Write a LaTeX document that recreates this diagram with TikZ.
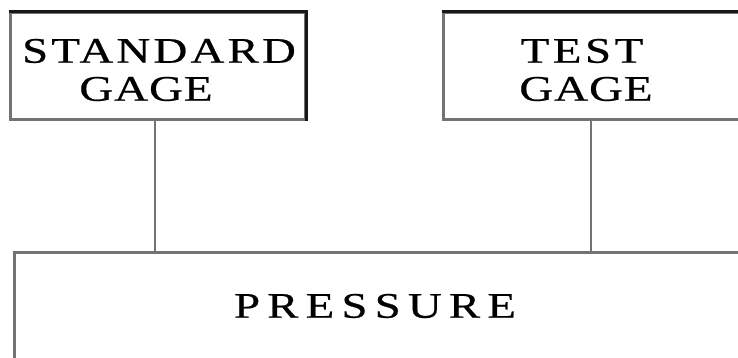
\documentclass[tikz,border=0pt]{standalone}
\usepackage{fontspec}
\setmainfont{Liberation Serif}[FakeStretch=1.3, FakeBold=0.6]
\newcommand{\lsp}[2]{{\addfontfeature{LetterSpace=#1}#2}}
\begin{document}
\begin{tikzpicture}[x=1pt,y=-1pt,
  gbox/.style={draw=black!55, line width=3pt, rectangle, inner sep=0pt},
  dark/.style={draw=black!90, line width=3pt},
  lbl/.style={align=center, font=\fontsize{36}{38}\selectfont, inner sep=0pt},
  wire/.style={draw=black!55, line width=2pt}]
\useasboundingbox (0,0) rectangle (738,358);
\node[gbox, minimum width=295pt, minimum height=107pt] (std) at (157.5,66.5) {};
\node[gbox, minimum width=302pt, minimum height=107pt] (test) at (594,66.5) {};
\node[gbox, minimum width=731pt, minimum height=113pt] (pres) at (379.5,308.5) {};
\draw[dark] (std.north west) -- (std.north east) -- (std.south east);
\draw[dark] (test.north west) -- (test.north east);
\node[lbl] (stdl) at (159,70) {\lsp{9}{STANDARD}\\\hspace*{-26pt}\lsp{3}{GAGE}};
\node[lbl] (testl) at (586,70) {\hspace*{-8pt}\lsp{10}{TEST}\\\lsp{3}{GAGE}};
\node[lbl] (presl) at (375,306) {\lsp{20}{PRESSURE}};
\coordinate (a1) at (155,120);
\coordinate (a2) at (155,252);
\coordinate (b1) at (591,120);
\coordinate (b2) at (591,252);
\draw[wire] (std.south -| a1) -- (pres.north -| a2);
\draw[wire] (test.south -| b1) -- (pres.north -| b2);
\end{tikzpicture}
\end{document}
